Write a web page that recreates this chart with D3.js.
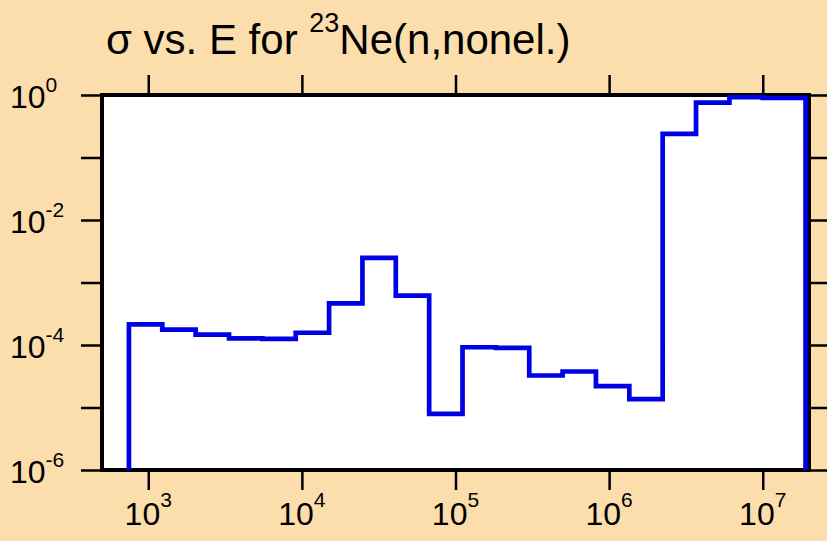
<!DOCTYPE html>
<html lang="en">
<head>
<meta charset="UTF-8">
<title>sigma vs E</title>
<script src="https://d3js.org/d3.v7.min.js"></script>
<style>
  html, body { margin: 0; padding: 0; background: #fcddac; }
  svg { display: block; }
  text { font-family: "Liberation Sans", Arial, sans-serif; fill: #000; }
</style>
</head>
<body>
<svg id="chart"></svg>
<script>
// bin edges in eV (group boundaries) and cross sections for each bin
var binEdges = [748.5, 1234, 2035, 3355, 5531, 9119, 15034, 24788, 40868, 67379,
                111090, 183156, 301974, 497871, 820850, 1353353, 2231302, 3678794,
                6065307, 1.0e7, 1.9e7];
var sigma = [2.14e-4, 1.76e-4, 1.47e-4, 1.28e-4, 1.25e-4, 1.57e-4, 4.63e-4, 2.47e-3,
             6.15e-4, 7.9e-6, 9.2e-5, 9.0e-5, 3.25e-5, 3.77e-5, 2.19e-5, 1.36e-5,
             0.238, 0.753, 0.92, 0.895];
var xTicks = [1e3, 1e4, 1e5, 1e6, 1e7];
var xTickExp = ["3", "4", "5", "6", "7"];
var yTicks = [1, 1e-1, 1e-2, 1e-3, 1e-4, 1e-5, 1e-6];
var yLabelVals = [1, 1e-2, 1e-4, 1e-6];
var yLabelExp = ["0", "-2", "-4", "-6"];

var width = 827, height = 541;
var padL = 102, padR = 809, padT = 95, padB = 470;

var svg = d3.select("#chart").attr("width", width).attr("height", height);

var x = d3.scaleLog().domain([500, 2e7]).range([padL, padR]);
var y = d3.scaleLog().domain([1e-6, 1]).range([padB, padT]);

// plot area
svg.append("rect")
    .attr("x", padL).attr("y", padT)
    .attr("width", padR - padL).attr("height", padB - padT)
    .attr("fill", "#fff")
    .attr("stroke", "#000")
    .attr("stroke-width", 4);

// ticks (outward on every side)
function tickAxis(axis, tx, ty) {
    var g = svg.append("g")
        .attr("transform", "translate(" + tx + "," + ty + ")")
        .call(axis);
    g.select(".domain").remove();
    g.selectAll(".tick line").attr("stroke", "#000").attr("stroke-width", 2.5);
    g.selectAll(".tick text").remove();
}
tickAxis(d3.axisLeft(y).tickValues(yTicks).tickSize(21), padL, 0);
tickAxis(d3.axisRight(y).tickValues(yTicks).tickSize(18), padR, 0);
tickAxis(d3.axisTop(x).tickValues(xTicks).tickSize(20), 0, padT);
tickAxis(d3.axisBottom(x).tickValues(xTicks).tickSize(20), 0, padB);

// step line
var pts = [[binEdges[0], 1e-6]];
sigma.forEach(function(s, i) { pts.push([binEdges[i], s]); });
pts.push([binEdges[binEdges.length - 1], sigma[sigma.length - 1]]);
pts.push([binEdges[binEdges.length - 1], 1e-6]);

svg.append("clipPath").attr("id", "clip")
    .append("rect")
    .attr("x", padL).attr("y", padT)
    .attr("width", padR - padL).attr("height", padB - padT);

var line = d3.line()
    .x(function(d) { return x(d[0]); })
    .y(function(d) { return y(d[1]); })
    .curve(d3.curveStepAfter);

svg.append("path")
    .datum(pts)
    .attr("clip-path", "url(#clip)")
    .attr("d", line)
    .attr("fill", "none")
    .attr("stroke", "#0000e6")
    .attr("stroke-width", 4.7)
    .attr("stroke-linejoin", "miter");

// y labels
yLabelVals.forEach(function(v, i) {
    var t = svg.append("text")
        .attr("x", 10)
        .attr("y", y(v) + 12.5)
        .style("font-size", "32px")
        .text("10");
    t.append("tspan")
        .attr("dy", -16)
        .style("font-size", "21px")
        .text(yLabelExp[i]);
});

// x labels
xTicks.forEach(function(v, i) {
    var t = svg.append("text")
        .attr("x", x(v))
        .attr("y", 525)
        .attr("text-anchor", "middle")
        .style("font-size", "32px")
        .text("10");
    t.append("tspan")
        .attr("dy", -18)
        .style("font-size", "21px")
        .text(xTickExp[i]);
});

// title
var title = svg.append("text")
    .attr("x", 106)
    .attr("y", 54)
    .style("font-size", "42px")
    .text("\u03c3 vs. E for ");
title.append("tspan")
    .attr("dy", -22)
    .style("font-size", "27px")
    .text("23");
title.append("tspan")
    .attr("dy", 22)
    .text("Ne(n,nonel.)");
</script>
</body>
</html>
